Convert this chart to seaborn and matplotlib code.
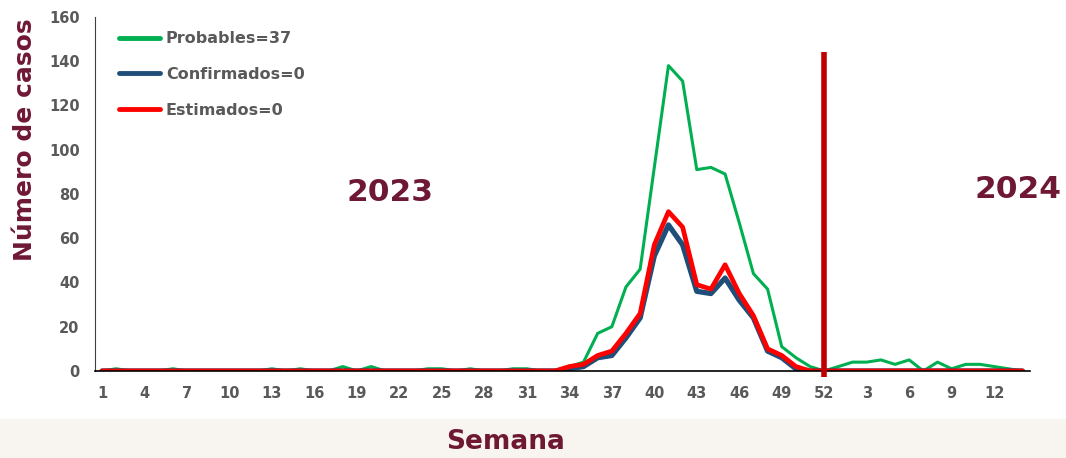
import numpy as np
import pandas as pd
import matplotlib
matplotlib.use("Agg")
import matplotlib.pyplot as plt
import seaborn as sns
from matplotlib.patches import Rectangle

# weeks: 2023 (1-52) then 2024 (1-14)
weeks_2023 = list(range(1, 53))
weeks_2024 = list(range(1, 15))

probables_2023 = [0, 1, 0, 0, 0, 1, 0, 0, 0, 0, 0, 0, 1, 0, 1, 0, 0, 2, 0, 2,
                  0, 0, 0, 1, 1, 0, 1, 0, 0, 1, 1, 0, 0, 2, 4, 17, 20, 38, 46, 92,
                  138, 131, 91, 92, 89, 67, 44, 37, 11, 6, 2, 0]
probables_2024 = [2, 4, 4, 5, 3, 5, 0, 4, 1, 3, 3, 2, 1, 0]

confirmados_2023 = [0] * 33 + [1, 2, 6, 7, 15, 24, 52, 66, 57, 36, 35, 42, 32, 24, 9, 6, 1, 0, 0]
confirmados_2024 = [0] * 14

estimados_2023 = [0] * 33 + [2, 3, 7, 9, 17, 26, 57, 72, 65, 39, 37, 48, 35, 25, 10, 7, 2, 0, 0]
estimados_2024 = [0] * 14

labels = ["Probables=37", "Confirmados=0", "Estimados=0"]
colors = ["#00B050", "#1F4E79", "#FF0000"]
maroon = "#6E1834"
grey = "#595959"

week_labels = [str(w) for w in weeks_2023 + weeks_2024]
idx = np.arange(len(week_labels))
df = pd.DataFrame({
    "i": idx,
    "Probables": probables_2023 + probables_2024,
    "Confirmados": confirmados_2023 + confirmados_2024,
    "Estimados": estimados_2023 + estimados_2024,
})

sns.set_style("white")
plt.rcParams["font.family"] = ["DejaVu Sans"]

fig = plt.figure(figsize=(10.66, 4.58), dpi=100)
fig.patches.append(Rectangle((0, 0), 1, 0.085, transform=fig.transFigure,
                             color="#F8F5F0", zorder=-5))
ax = fig.add_axes([0.0891, 0.19, 0.8767, 0.773])

sns.lineplot(data=df, x="i", y="Probables", color=colors[0], linewidth=2.2,
             label=labels[0], ax=ax)
sns.lineplot(data=df, x="i", y="Confirmados", color=colors[1], linewidth=3.8,
             label=labels[1], ax=ax)
sns.lineplot(data=df, x="i", y="Estimados", color=colors[2], linewidth=3.4,
             label=labels[2], ax=ax)

# separator between years
ax.plot([51, 51], [-2.5, 144], color="#C00000", linewidth=4, solid_capstyle="butt",
        zorder=5, clip_on=False)

ax.set_xlim(-0.5, len(week_labels) - 0.5)
ax.set_ylim(0, 160)
ax.set_yticks(range(0, 161, 20))
ax.set_xticks(idx[::3])
ax.set_xticklabels(week_labels[::3])
ax.set_xticks(np.arange(-0.5, len(week_labels), 1), minor=True)
ax.tick_params(axis="x", which="major", length=0, pad=11, labelsize=10.5,
               labelcolor=grey)
ax.tick_params(axis="x", which="minor", length=5, width=1.2, direction="out",
               color="black")
ax.tick_params(axis="y", length=5, width=1, direction="out", labelsize=10.5,
               labelcolor=grey, pad=6)
for lab in ax.get_xticklabels() + ax.get_yticklabels():
    lab.set_fontweight("bold")

for s in ["top", "right"]:
    ax.spines[s].set_visible(False)
ax.spines["left"].set_color("#404040")
ax.spines["bottom"].set_color("black")
ax.spines["bottom"].set_linewidth(1.2)

ax.set_xlabel("Semana", fontsize=19, fontweight="bold", color=maroon)
ax.xaxis.set_label_coords(0.439, -0.165)
ax.set_ylabel("Número de casos", fontsize=18, fontweight="bold", color=maroon)
ax.yaxis.set_label_coords(-0.062, 0.653)

ax.text(20.3, 80.5, "2023", fontsize=22.5, fontweight="bold", color=maroon,
        ha="center", va="center")
ax.text(64.7, 81.8, "2024", fontsize=22.5, fontweight="bold", color=maroon,
        ha="center", va="center")

leg = ax.legend(loc="upper left", bbox_to_anchor=(0.01, 1.0), frameon=False,
                handlelength=2.6, handletextpad=0.35, labelspacing=1.3,
                prop={"size": 11.5, "weight": "bold"})
for t in leg.get_texts():
    t.set_color(grey)
for h in leg.get_lines():
    h.set_linewidth(3.5)

plt.savefig("out.png", dpi=100)
